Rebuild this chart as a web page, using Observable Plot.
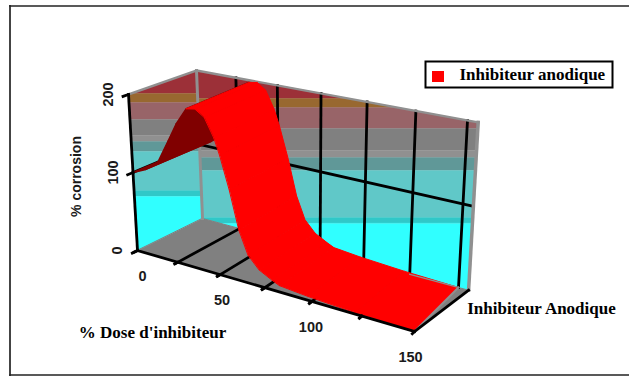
<!DOCTYPE html>
<html>
<head>
<meta charset="utf-8">
<style>html,body{margin:0;padding:0;background:#fff}svg{display:block}</style>
<script src="https://cdn.jsdelivr.net/npm/d3@7"></script>
<script src="https://cdn.jsdelivr.net/npm/@observablehq/plot@0.6"></script>
</head>
<body>
<script>
// Corrosion response of the anodic inhibitor against inhibitor dose.
const doses = [0, 8, 15, 22, 27, 33, 38, 43, 48, 51, 56, 61, 66, 72, 79, 83, 98, 122, 150];
const corrosion = [100, 108, 119, 151, 175, 197, 199, 191, 168, 148, 108, 62, 34, 20, 12, 8, 5, 2, 0];
const doseTicks = [0, 25, 50, 75, 100, 125, 150];
const doseLabels = [0, 50, 100, 150];
const valueTicks = [0, 100, 200];
const seriesName = "Inhibiteur anodique";
const depthName = "Inhibiteur Anodique";
const doseTitle = "% Dose d'inhibiteur";
const valueTitle = "% corrosion";

// Camera of the 3D box: where the eight box corners fall on the page.
const floorFront = [[137, 250], [414, 331]];
const floorBack = [[202, 218], [458, 287]];
const roofFront = [[128, 94], [426, 155]];
const roofBack = [[196, 70], [467, 120]];
const doseMax = 150, valueMax = 200, perspective = -0.15, wallEnd = 155;

const mix = (a, b, t) => [a[0] + (b[0] - a[0]) * t, a[1] + (b[1] - a[1]) * t];
function project(dose, depth, value) {
  const s = dose / doseMax;
  const t = s * (1 + perspective) / (1 + perspective * s);
  const low = mix(mix(floorFront[0], floorFront[1], t), mix(floorBack[0], floorBack[1], t), depth);
  const high = mix(mix(roofFront[0], roofFront[1], t), mix(roofBack[0], roofBack[1], t), depth);
  return mix(low, high, value / valueMax);
}

// Wall shading runs in flat horizontal rows on the page.
const shades = ["#9c3038", "#986830", "#986468", "#808080", "#909090", "#609898", "#60c8c8", "#30c8c8", "#30ffff"];
const backRows = [60, 98, 107, 128, 150, 157, 170, 217, 223, 300];
const sideRows = [60, 93, 102, 119, 135, 141, 151, 190, 196, 300];

// Cuts a convex polygon down to the part between two page heights.
function clipRow(poly, top, bottom) {
  const cut = (pts, keep, yAt) => {
    const out = [];
    pts.forEach((p, i) => {
      const q = pts[(i + 1) % pts.length];
      if (keep(p)) out.push(p);
      if (keep(p) !== keep(q)) out.push(mix(p, q, (yAt - p[1]) / (q[1] - p[1])));
    });
    return out;
  };
  const a = cut(poly, p => p[1] >= top, top);
  return a.length ? cut(a, p => p[1] <= bottom, bottom) : a;
}

const backWall = [project(0, 1, 0), project(wallEnd, 1, 0), project(wallEnd, 1, valueMax), project(0, 1, valueMax)];
const sideWall = [project(0, 0, 0), project(0, 1, 0), project(0, 1, valueMax), project(0, 0, valueMax)];
const floorPlane = [project(0, 0, 0), project(doseMax, 0, 0), project(wallEnd, 1, 0), project(0, 1, 0)];

const shape = (pts, fill, stroke = fill, strokeWidth = 1) =>
  Plot.line(pts, {x: d => d[0], y: d => d[1], fill, stroke, strokeWidth, curve: "linear-closed"});
const rule = (a, b, stroke = "#000", strokeWidth = 2.8) =>
  Plot.line([a, b], {x: d => d[0], y: d => d[1], stroke, strokeWidth, strokeLinecap: "square"});
const rows = (wall, edges) => shades.map((c, i) => {
  const pts = clipRow(wall, edges[i], edges[i + 1]);
  return pts.length ? shape(pts, c, c, 0.4) : null;
});

// Ribbon strips between successive doses; the climb shows its underside.
const peakIndex = doses.indexOf(33);
const strip = i => [project(doses[i], 0, corrosion[i]), project(doses[i], 1, corrosion[i]),
  project(doses[i + 1], 1, corrosion[i + 1]), project(doses[i + 1], 0, corrosion[i + 1])];
const underside = d3.range(0, peakIndex).map(i => shape(strip(i), "#800000", "#800000", 1.4));
const topside = d3.range(peakIndex, doses.length - 1).map(i => shape(strip(i), "#ff0000"));

const label = (text, at, o) => Plot.text([text], {x: () => at[0], y: () => at[1], text: d => d, fill: "#000", ...o});
const sansTick = {fontFamily: "Liberation Sans", fontSize: 14.5, fontWeight: 700, fill: "#1a1a1a"};
const serifTitle = {fontFamily: "Liberation Serif", fontSize: 17, fontWeight: 700};

const chart = Plot.plot({
  width: 629, height: 376,
  margin: 0,
  x: {type: "identity", axis: null},
  y: {type: "identity", axis: null},
  style: {background: "#fff"},
  marks: [
    // page frame
    rule([9.5, 374.5], [9.5, 5.5], "#444", 2),
    rule([9.5, 5.5], [629, 5.5], "#222", 1.6),
    rule([9.5, 374.5], [629, 374.5], "#222", 1.6),

    // walls and floor
    ...rows(backWall, backRows),
    ...rows(sideWall, sideRows),
    shape(floorPlane, "#808080"),

    // grid on walls and floor
    ...doseTicks.slice(1).map(d => rule(project(d, 1, 0), project(d, 1, valueMax))),
    rule(project(0, 1, 100), project(wallEnd, 1, 100)),
    rule(project(0, 0, 100), project(0, 1, 100)),
    ...doseTicks.slice(1, -1).map(d => rule(project(d, -0.04, 0), project(d, 1, 0))),

    // wall outlines
    rule(project(0, 1, 0), project(0, 1, valueMax), "#909090", 3),
    rule(project(0, 0, valueMax), project(0, 1, valueMax), "#909090", 2.4),
    rule(project(0, 1, valueMax), project(wallEnd, 1, valueMax), "#909090", 2.4),
    rule(project(wallEnd, 1, 0), project(wallEnd, 1, valueMax), "#909090", 3.5),

    // ribbon
    ...underside,
    ...topside,
    rule(project(125, 1, 0), project(doseMax, 1, 0), "#909090", 1.4),
    rule(project(doseMax, 0, 0), project(doseMax, 1, 0), "#909090", 2),

    // axes
    rule(project(0, 0, 0), project(0, 0, valueMax)),
    rule(project(0, 0, 0), project(doseMax, 0, 0)),
    rule(project(doseMax, 0, 0), project(wallEnd, 1, 0)),
    ...valueTicks.map(v => rule(project(0, -0.08, v), project(0, 0, v))),
    ...doseTicks.map(d => rule(project(d, -0.05, 0), project(d, 0, 0))),

    // tick labels
    ...valueTicks.map(v => {
      const p = project(0, 0, v);
      return label(String(v), [p[0] - 20, p[1]], {...sansTick, rotate: -90});
    }),
    ...doseLabels.map(d => {
      const p = project(d, 0, 0);
      return label(String(d), [p[0] + 5 - 9 * d / doseMax, p[1] + 26], sansTick);
    }),

    // titles
    label(valueTitle, [76, 176], {fontFamily: "Liberation Sans", fontSize: 14, fontWeight: 700, rotate: -90, fill: "#1a1a1a"}),
    label(doseTitle, [152, 332], serifTitle),
    label(depthName, [541, 308], serifTitle),

    // legend
    Plot.rect([seriesName], {x1: () => 425.5, x2: () => 612.5, y1: () => 61.5, y2: () => 87.5, fill: "#fff", stroke: "#000", strokeWidth: 2}),
    Plot.rect([seriesName], {x1: () => 432, x2: () => 444, y1: () => 71, y2: () => 82, fill: "#ff0000"}),
    label(seriesName, [459, 74], {...serifTitle, textAnchor: "start"})
  ].filter(Boolean)
});
document.body.appendChild(chart);
</script>
</body>
</html>
